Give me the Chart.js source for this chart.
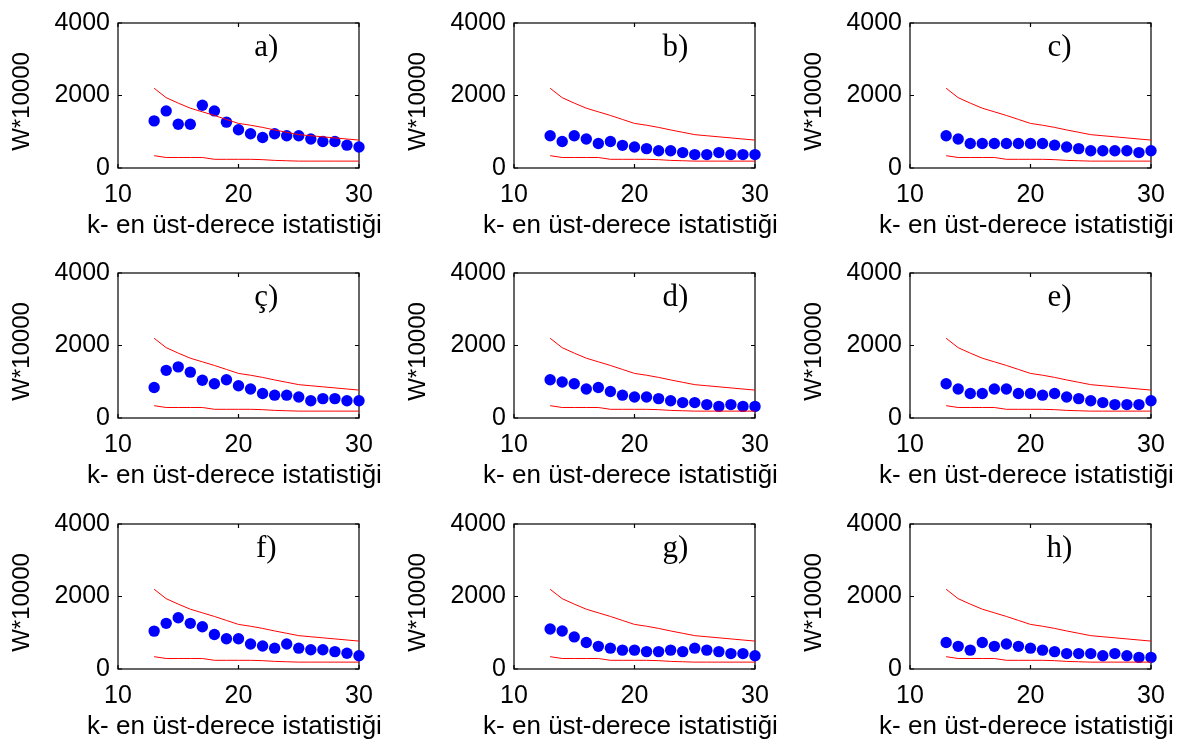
<!DOCTYPE html>
<html>
<head>
<meta charset="utf-8">
<script src="https://cdn.jsdelivr.net/npm/chart.js@4"></script>
<style>
  html, body { margin: 0; padding: 0; background: #fff; }
  #grid { position: relative; width: 1188px; height: 747px; }
  .cell { position: absolute; width: 396px; height: 246px; }
</style>
</head>
<body>
<div id="grid"></div>
<script>
// k values on the x axis
const kValues = [13, 14, 15, 16, 17, 18, 19, 20, 21, 22, 23, 24, 25, 26, 27, 28, 29, 30];

// red bounds, same in every panel
const upperBound = [2200, 1940, 1790, 1650, 1550, 1450, 1340, 1230, 1180, 1120, 1050, 985, 920, 890, 860, 830, 800, 770];
const lowerBound = [340, 290, 290, 290, 290, 240, 240, 240, 240, 230, 210, 200, 190, 190, 190, 190, 190, 190];

// blue points for each panel
const panelA = [1300, 1575, 1205, 1205, 1730, 1575, 1265, 1055, 945, 840, 945, 890, 890, 800, 730, 730, 630, 580];
const panelB = [890, 730, 890, 800, 675, 730, 625, 580, 535, 475, 475, 425, 370, 370, 425, 370, 370, 370];
const panelC = [890, 800, 675, 675, 675, 675, 675, 675, 675, 630, 580, 535, 475, 475, 475, 475, 425, 475];
const panelCc = [840, 1315, 1410, 1265, 1040, 945, 1055, 890, 800, 675, 630, 630, 580, 475, 535, 535, 475, 475];
const panelD = [1055, 995, 945, 800, 840, 730, 630, 580, 580, 535, 475, 425, 425, 370, 320, 370, 320, 320];
const panelE = [945, 800, 675, 675, 800, 800, 675, 675, 630, 675, 580, 535, 475, 425, 370, 370, 370, 475];
const panelF = [1045, 1260, 1415, 1260, 1165, 950, 835, 835, 690, 635, 575, 690, 575, 530, 530, 480, 435, 365];
const panelG = [1105, 1050, 885, 730, 625, 575, 520, 520, 480, 480, 520, 480, 575, 520, 480, 425, 425, 365];
const panelH = [730, 625, 520, 730, 625, 690, 625, 575, 520, 480, 425, 425, 425, 365, 425, 365, 320, 320];

const panelNames = ['a)', 'b)', 'c)', 'ç)', 'd)', 'e)', 'f)', 'g)', 'h)'];
const panelSeries = [panelA, panelB, panelC, panelCc, panelD, panelE, panelF, panelG, panelH];

// tick labels and axis titles
const xTicks = [10, 20, 30];
const yTicks = [0, 2000, 4000];
const xTitle = 'k- en üst-derece istatistiği';
const yTitle = 'W*10000';

const sansFont = "'Liberation Sans', Arial, sans-serif";

// matlab-ish box: frame, inward ticks, panel letter and axis titles
const matlabBox = {
  id: 'matlabBox',
  beforeDatasetsDraw(chart) {
    const { ctx, chartArea: a, scales: { x, y } } = chart;
    const len = 4;
    ctx.save();
    ctx.strokeStyle = '#000';
    ctx.lineWidth = 1.2;
    ctx.strokeRect(a.left, a.top, a.right - a.left, a.bottom - a.top);
    ctx.beginPath();
    x.ticks.forEach(t => {
      const px = x.getPixelForValue(t.value);
      ctx.moveTo(px, a.bottom); ctx.lineTo(px, a.bottom - len);
      ctx.moveTo(px, a.top); ctx.lineTo(px, a.top + len);
    });
    y.ticks.forEach(t => {
      const py = y.getPixelForValue(t.value);
      ctx.moveTo(a.left, py); ctx.lineTo(a.left + len, py);
      ctx.moveTo(a.right, py); ctx.lineTo(a.right - len, py);
    });
    ctx.stroke();
    ctx.restore();
  },
  afterDraw(chart, args, opts) {
    const { ctx, chartArea: a, scales: { x, y } } = chart;
    ctx.save();
    ctx.fillStyle = '#000';
    ctx.textAlign = 'center';
    ctx.textBaseline = 'alphabetic';
    ctx.font = "31px 'Liberation Serif', 'Times New Roman', serif";
    ctx.fillText(opts.text, x.getPixelForValue(opts.x), y.getPixelForValue(opts.y));
    // x title drawn here so it is not squeezed to the axis width
    ctx.font = '26px ' + sansFont;
    ctx.fillText(xTitle, (a.left + a.right) / 2 - 4, a.bottom + 65);
    // y title, rotated
    ctx.translate(22, (a.top + a.bottom) / 2 + 6);
    ctx.rotate(-Math.PI / 2);
    ctx.textBaseline = 'middle';
    ctx.font = '24px ' + sansFont;
    ctx.fillText(yTitle, 0, 0);
    ctx.restore();
  }
};

const grid = document.getElementById('grid');
const rowTops = [0, 250, 501];
const colLefts = [0, 396, 792];
const labelXByCol = [22.3, 23.4, 22.4];

panelSeries.forEach((values, i) => {
  const row = Math.floor(i / 3), col = i % 3;
  const cell = document.createElement('div');
  cell.className = 'cell';
  cell.style.left = colLefts[col] + 'px';
  cell.style.top = rowTops[row] + 'px';
  const canvas = document.createElement('canvas');
  cell.appendChild(canvas);
  grid.appendChild(cell);

  new Chart(canvas, {
    type: 'scatter',
    data: {
      datasets: [
        {
          data: kValues.map((k, j) => ({ x: k, y: upperBound[j] })),
          showLine: true, borderColor: '#ff0000', borderWidth: 1,
          pointRadius: 0, clip: false
        },
        {
          data: kValues.map((k, j) => ({ x: k, y: lowerBound[j] })),
          showLine: true, borderColor: '#ff0000', borderWidth: 1,
          pointRadius: 0, clip: false
        },
        {
          data: kValues.map((k, j) => ({ x: k, y: values[j] })),
          backgroundColor: '#0000ff', borderWidth: 0,
          pointRadius: 5.7, clip: false
        }
      ]
    },
    options: {
      responsive: true,
      maintainAspectRatio: false,
      animation: false,
      layout: { padding: { left: 0, top: 14, right: 37, bottom: 0 } },
      plugins: {
        legend: { display: false },
        tooltip: { enabled: false },
        matlabBox: { text: panelNames[i], x: labelXByCol[col], y: 3100 }
      },
      scales: {
        x: {
          type: 'linear', min: 10, max: 30,
          afterBuildTicks: s => { s.ticks = xTicks.map(v => ({ value: v })); },
          ticks: {
            color: '#000', font: { family: sansFont, size: 25 }, padding: 12, maxRotation: 0,
            callback: v => String(v)
          },
          grid: { display: false, drawTicks: false },
          border: { display: false },
          afterFit: s => { s.height = 78; }
        },
        y: {
          min: 0, max: 4000,
          afterBuildTicks: s => { s.ticks = yTicks.map(v => ({ value: v })); },
          ticks: {
            color: '#000', font: { family: sansFont, size: 25 }, padding: 8,
            callback: v => String(v)
          },
          grid: { display: false, drawTicks: false },
          border: { display: false },
          afterFit: s => { s.width = 118; }
        }
      }
    },
    plugins: [matlabBox]
  });
});
</script>
</body>
</html>
